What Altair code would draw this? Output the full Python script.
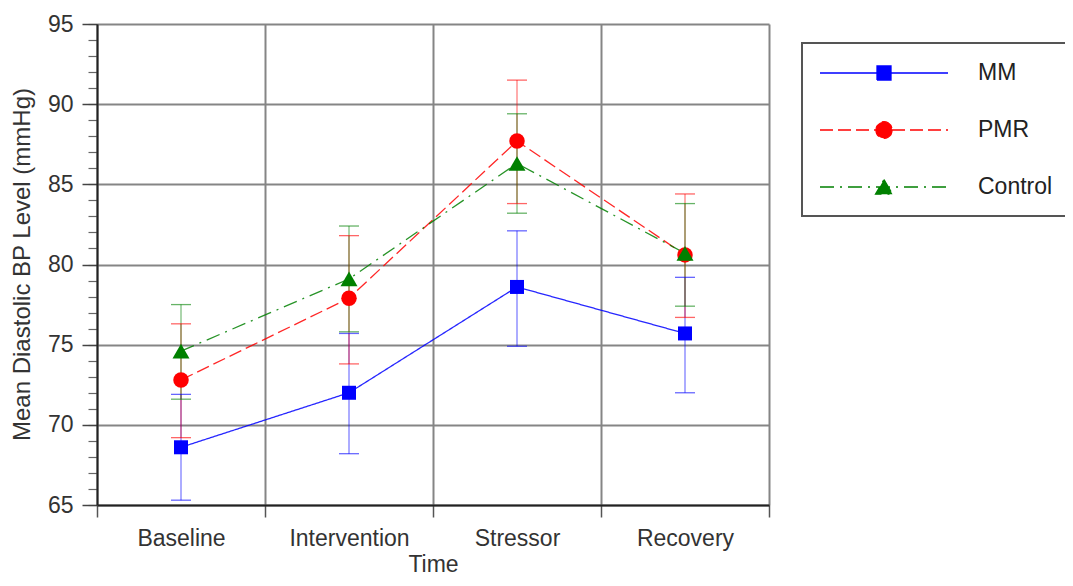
import altair as alt
import pandas as pd

# ---- data ----
categories = ["Baseline", "Intervention", "Stressor", "Recovery"]
groups = ["MM", "PMR", "Control"]

mm_mean = [68.6, 72.0, 78.6, 75.7]
mm_lo = [65.3, 68.2, 74.9, 72.0]
mm_hi = [71.9, 75.7, 82.1, 79.2]

pmr_mean = [72.8, 77.9, 87.7, 80.6]
pmr_lo = [69.2, 73.8, 83.8, 76.7]
pmr_hi = [76.3, 81.8, 91.5, 84.4]

ctl_mean = [74.6, 79.1, 86.3, 80.7]
ctl_lo = [71.6, 75.8, 83.2, 77.4]
ctl_hi = [77.5, 82.4, 89.4, 83.8]

y_major = [65, 70, 75, 80, 85, 90, 95]
y_minor = list(range(65, 96))

# ---- styles ----
colors = ["#0000ff", "#ff0000", "#008000"]
dashes = [[1, 0], [13, 5], [14, 6, 2, 6]]
marker_shapes = ["square", "circle", "triangle-up"]
marker_sizes = [196, 240, 289]
legend_paths = [
    "M-1,0H9.667M3.75,-0.583H4.917V0.583H3.75Z",
    "M-1,0H9.667M5,0A0.667,0.667,0,1,1,3.667,0A0.667,0.667,0,1,1,5,0Z",
    "M-1,0H9.667M4.333,-0.625L5.042,0.6H3.625Z",
]
FONT = "Liberation Sans"

rows = []
for g, means, los, his in zip(groups, [mm_mean, pmr_mean, ctl_mean],
                              [mm_lo, pmr_lo, ctl_lo], [mm_hi, pmr_hi, ctl_hi]):
    for i, c in enumerate(categories):
        rows.append(dict(group=g, time=c, pos=i + 0.5, mean=means[i], lo=los[i], hi=his[i]))
df = pd.DataFrame(rows)

xscale = alt.Scale(domain=[0, len(categories)], nice=False, zero=False)
yscale = alt.Scale(domain=[65, 95], nice=False, zero=False)
cscale = alt.Scale(domain=groups, range=colors)

label_expr = " : ".join("datum.value == %d ? '%s'" % (i, c) for i, c in enumerate(categories)) + " : ''"

x_axis = alt.Axis(values=list(range(len(categories) + 1)), labelExpr=label_expr, orient="bottom",
                  labelOffset=84, labelFlush=False,
                  tickSize=12, tickColor="#555", tickWidth=1.5,
                  grid=True, gridColor="#858585", gridWidth=2,
                  domainColor="#222", domainWidth=2,
                  labelFontSize=23, labelColor="#333", labelPadding=21,
                  labelBaseline="middle",
                  title="Time", titleFontSize=23, titleFontWeight="normal",
                  titleColor="#333", titleBaseline="middle", titleY=59)

y_axis = alt.Axis(values=y_major, orient="left", tickSize=15, tickColor="#444", tickWidth=1.5,
                  grid=True, gridColor="#858585", gridWidth=2,
                  domainColor="#222", domainWidth=2,
                  labelFontSize=23, labelColor="#333", labelPadding=9,
                  title="Mean Diastolic BP Level (mmHg)", titleFontSize=24,
                  titleFontWeight="normal", titleColor="#333",
                  titleBaseline="middle", titleX=-75, titleY=240)

y_minor_axis = alt.Axis(values=y_minor, orient="left", tickSize=9, tickColor="#666",
                        tickWidth=1.2, grid=False, domain=False, labels=False, title=None)

X = alt.X("pos:Q", scale=xscale, axis=None)

err_rule = alt.Chart(df).mark_rule(strokeWidth=1.3, opacity=0.5).encode(
    x=alt.X("pos:Q", scale=xscale, axis=x_axis),
    y=alt.Y("lo:Q", scale=yscale, axis=y_minor_axis),
    y2="hi:Q",
    color=alt.Color("group:N", scale=cscale, legend=None),
)
cap_lo = alt.Chart(df).mark_tick(orient="horizontal", size=20, thickness=1.3, opacity=0.6).encode(
    x=X, y=alt.Y("lo:Q", scale=yscale, axis=None),
    color=alt.Color("group:N", scale=cscale, legend=None),
)
cap_hi = alt.Chart(df).mark_tick(orient="horizontal", size=20, thickness=1.3, opacity=0.6).encode(
    x=X, y=alt.Y("hi:Q", scale=yscale, axis=None),
    color=alt.Color("group:N", scale=cscale, legend=None),
)

lines = alt.Chart(df).mark_line(strokeWidth=1.3, opacity=0.85).encode(
    x=X,
    y=alt.Y("mean:Q", scale=yscale, axis=y_axis),
    color=alt.Color("group:N", scale=cscale, legend=None),
    strokeDash=alt.StrokeDash("group:N", scale=alt.Scale(domain=groups, range=dashes), legend=None),
    detail="group:N",
)

point_layers = []
for g, col, shp, sz in zip(groups, colors, marker_shapes, marker_sizes):
    point_layers.append(
        alt.Chart(df).transform_filter(alt.datum.group == g)
        .mark_point(shape=shp, filled=True, size=sz, color=col, opacity=1)
        .encode(x=X, y=alt.Y("mean:Q", scale=yscale, axis=None))
    )

leg = alt.Legend(title=None, orient="none", legendX=705, legendY=19,
                 symbolSize=576, symbolStrokeWidth=1.3, symbolOpacity=1,
                 labelFontSize=23, labelColor="#222", labelFont=FONT,
                 labelOffset=133, rowPadding=32, padding=17,
                 strokeColor="#555", fillColor="#ffffff")

legend_layer = alt.Chart(df).mark_point(opacity=0, filled=True).encode(
    x=X, y=alt.Y("mean:Q", scale=yscale, axis=None),
    shape=alt.Shape("group:N", scale=alt.Scale(domain=groups, range=legend_paths), legend=leg),
    fill=alt.Fill("group:N", scale=alt.Scale(domain=groups, range=colors), legend=leg),
    stroke=alt.Stroke("group:N", scale=alt.Scale(domain=groups, range=colors), legend=leg),
    strokeDash=alt.StrokeDash("group:N", scale=alt.Scale(domain=groups, range=dashes), legend=leg),
)

chart = alt.layer(err_rule, cap_lo, cap_hi, lines, *point_layers, legend_layer).resolve_axis(
    x="independent", y="independent"
).resolve_legend(
    color="independent", fill="independent", stroke="independent",
    shape="independent", strokeDash="independent"
).properties(
    width=672, height=481,
    autosize=alt.AutoSizeParams(type="none"),
    padding={"left": 89, "top": 16, "right": 296, "bottom": 73},
    background="#ffffff",
).configure_view(stroke=None).configure_axis(
    labelFont=FONT, titleFont=FONT
).configure_legend(strokeWidth=2)

chart.save("out.html", embed_options={"renderer": "svg", "actions": False})
